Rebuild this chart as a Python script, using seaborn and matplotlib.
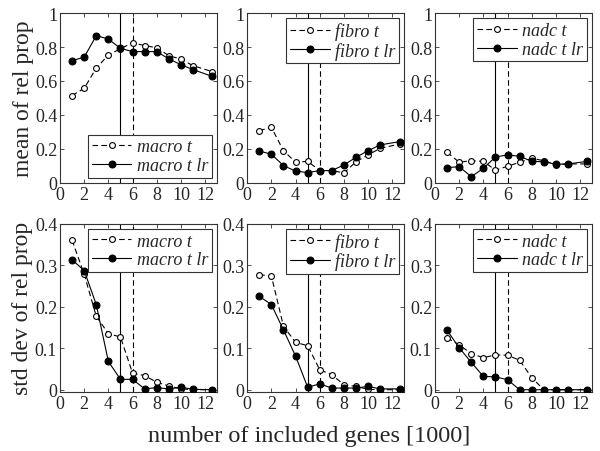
import numpy as np
import pandas as pd
import seaborn as sns
import matplotlib
matplotlib.use('Agg')
import matplotlib.pyplot as plt

# number of included genes [1000]
genes = [1, 2, 3, 4, 5, 6, 7, 8, 9, 10, 11, 12.6]

# mean of rel prop
macro_t_mean = [0.514, 0.557, 0.676, 0.753, 0.79, 0.825, 0.808, 0.796, 0.749, 0.729, 0.69, 0.655]
macro_lr_mean = [0.72, 0.74, 0.867, 0.847, 0.792, 0.773, 0.773, 0.773, 0.73, 0.696, 0.667, 0.627]
fibro_t_mean = [0.308, 0.327, 0.19, 0.122, 0.127, 0.073, 0.073, 0.059, 0.125, 0.165, 0.204, 0.229]
fibro_lr_mean = [0.188, 0.169, 0.102, 0.07, 0.061, 0.073, 0.073, 0.106, 0.151, 0.19, 0.224, 0.243]
nadc_t_mean = [0.18, 0.122, 0.131, 0.127, 0.076, 0.098, 0.122, 0.145, 0.131, 0.108, 0.112, 0.112]
nadc_lr_mean = [0.09, 0.096, 0.037, 0.086, 0.153, 0.165, 0.157, 0.127, 0.125, 0.11, 0.112, 0.127]

# std dev of rel prop
macro_t_std = [0.36, 0.278, 0.177, 0.135, 0.127, 0.04, 0.034, 0.018, 0.009, 0.002, 0.0, 0.0]
macro_lr_std = [0.313, 0.287, 0.205, 0.068, 0.025, 0.025, 0.002, 0.005, 0.002, 0.006, 0.001, 0.0]
fibro_t_std = [0.277, 0.274, 0.153, 0.114, 0.106, 0.048, 0.036, 0.012, 0.008, 0.001, 0.0, 0.0]
fibro_lr_std = [0.225, 0.205, 0.144, 0.081, 0.006, 0.014, 0.004, 0.004, 0.004, 0.008, 0.002, 0.002]
nadc_t_std = [0.125, 0.108, 0.087, 0.077, 0.084, 0.083, 0.071, 0.029, 0.0, 0.0, 0.0, 0.0]
nadc_lr_std = [0.143, 0.101, 0.066, 0.032, 0.031, 0.024, 0.0, 0.0, 0.0, 0.0, 0.0, 0.0]

cells = ['macro', 'fibro', 'nadc']

sns.set_style('ticks')
plt.rcParams['font.family'] = ['Liberation Serif', 'DejaVu Serif']

fig = plt.figure(figsize=(6, 4.52), dpi=100)
lefts = [0.1, 0.412, 0.725]
w = 0.262
rows = [(0.593, 0.376), (0.131, 0.372)]

panels = [
    [(macro_t_mean, macro_lr_mean), (fibro_t_mean, fibro_lr_mean), (nadc_t_mean, nadc_lr_mean)],
    [(macro_t_std, macro_lr_std), (fibro_t_std, fibro_lr_std), (nadc_t_std, nadc_lr_std)],
]

edge = '#333333'
for r, (bot, h) in enumerate(rows):
    for c in range(3):
        ax = fig.add_axes([lefts[c], bot, w, h])
        t_vals, lr_vals = panels[r][c]
        df = pd.DataFrame({'genes': genes, 't': t_vals, 'lr': lr_vals})
        ax.axvline(5, color='black', lw=0.8, zorder=1)
        ax.axvline(6, color='black', lw=0.8, ls=(0, (5, 3)), zorder=1)
        sns.lineplot(data=df, x='genes', y='t', ax=ax, color='black', lw=0.8,
                     linestyle=(0, (5, 3)), marker='o', markersize=4.2,
                     markerfacecolor='white', markeredgecolor='black',
                     markeredgewidth=0.8, label=f'{cells[c]} t', zorder=3)
        sns.lineplot(data=df, x='genes', y='lr', ax=ax, color='black', lw=0.8,
                     marker='o', markersize=5, markerfacecolor='black',
                     markeredgecolor='black', label=f'{cells[c]} t lr', zorder=4)
        ax.set_xlim(0, 13)
        ax.set_xticks(range(0, 13, 2))
        if r == 0:
            ax.set_ylim(0, 1)
            ax.set_yticks([0, 0.2, 0.4, 0.6, 0.8, 1])
            ax.set_yticklabels(['0', '0.2', '0.4', '0.6', '0.8', '1'])
        else:
            ax.set_ylim(-0.005, 0.4)
            ax.set_yticks([0, 0.1, 0.2, 0.3, 0.4])
            ax.set_yticklabels(['0', '0.1', '0.2', '0.3', '0.4'])
        ax.set_xlabel('')
        ax.set_ylabel('')
        ax.tick_params(direction='in', length=3, width=0.6, labelsize=13,
                       top=True, right=True, color=edge, pad=2)
        for s in ax.spines.values():
            s.set_color(edge)
            s.set_linewidth(0.8)
        loc = 'lower right' if (r == 0 and c == 0) else 'upper right'
        leg = ax.legend(loc=loc, fancybox=False, framealpha=1, edgecolor=edge,
                        prop={'style': 'italic', 'size': 13, 'family': 'Liberation Serif'},
                        handlelength=2.2, handletextpad=0.3, borderpad=0.2,
                        labelspacing=0.1, borderaxespad=0.3)
        leg.get_frame().set_linewidth(0.8)
        if c == 0:
            ax.set_ylabel('mean of rel prop' if r == 0 else 'std dev of rel prop',
                          fontsize=17, labelpad=1)

fig.text(0.515, 0.035, 'number of included genes [1000]', ha='center', va='center', fontsize=17.5)

fig.savefig('out.png', dpi=100)
